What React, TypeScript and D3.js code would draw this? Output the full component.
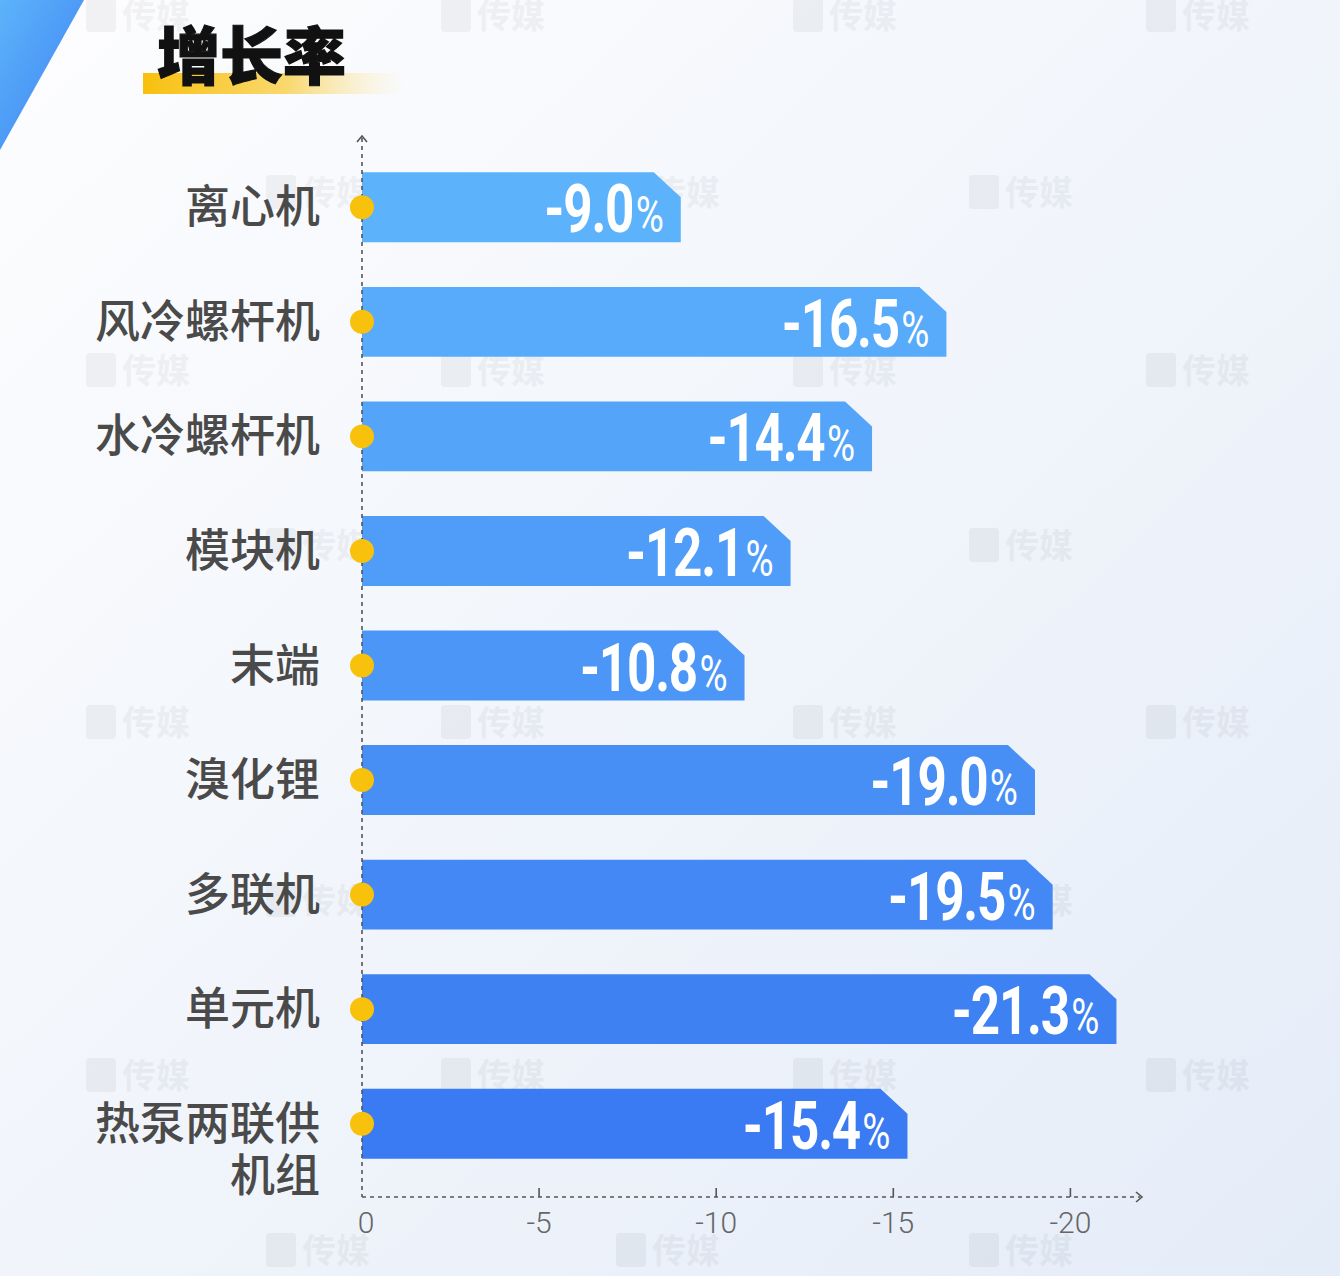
import React from "react";
import * as d3 from "d3";

const categories = ["离心机", "风冷螺杆机", "水冷螺杆机", "模块机", "末端", "溴化锂", "多联机", "单元机", "热泵两联供机组"];
const growth = [-9.0, -16.5, -14.4, -12.1, -10.8, -19.0, -19.5, -21.3, -15.4];
const tickValues = [0, -5, -10, -15, -20];
const title = "增长率";
const watermark = "传媒";

const W = 1340;
const H = 1276;

const wmRowsY = [15, 192, 370, 545, 722, 900, 1075, 1250];
const wmColsA = [140, 495, 847, 1200];
const wmColsB = [320, 670, 1023];

function labelLines(c: string): string[] {
  if (c.length > 5) return [c.slice(0, 5), c.slice(5)];
  return [c];
}

export default function App() {
  const x = d3.scaleLinear().domain([0, -22]).range([362, 362 + 22 * 35.42]);
  const y = d3
    .scaleBand<string>()
    .domain(categories)
    .range([150, 1181])
    .paddingInner(0.39)
    .paddingOuter(0.195);
  const bw = y.bandwidth();
  const color = d3.interpolateRgb("#5cb2fb", "#3a7af2");
  const axisY = 1197;
  const x0 = x(0);
  const bevelW = 27;
  const bevelH = 25;

  return (
    <svg width={W} height={H} style={{ position: "absolute", left: 0, top: 0 }} xmlns="http://www.w3.org/2000/svg">
      <defs>
        <linearGradient id="bg" x1="0" y1="0" x2="1" y2="1">
          <stop offset="0" stopColor="#fdfdfe" />
          <stop offset="0.5" stopColor="#f1f5fb" />
          <stop offset="1" stopColor="#e4ecf8" />
        </linearGradient>
        <linearGradient id="tri" x1="0" y1="0" x2="1" y2="1">
          <stop offset="0" stopColor="#5db3fb" />
          <stop offset="1" stopColor="#3d82f1" />
        </linearGradient>
        <linearGradient id="hl" x1="0" y1="0" x2="1" y2="0">
          <stop offset="0" stopColor="#f8c00c" />
          <stop offset="0.55" stopColor="#f9cf4a" stopOpacity="0.8" />
          <stop offset="1" stopColor="#fbe6a8" stopOpacity="0" />
        </linearGradient>
      </defs>
      <rect x={0} y={0} width={W} height={H} fill="url(#bg)" />
      <polygon points="0,0 84,0 0,150" fill="url(#tri)" />

      {/* watermarks */}
      <g fill="#000" opacity={0.04} fontFamily="Noto Sans CJK SC" fontWeight={700} fontSize={34}>
        {wmRowsY.map((wy, ri) =>
          (ri % 2 === 0 ? wmColsA : wmColsB).map((wx) => (
            <g key={`${ri}-${wx}`}>
              <rect x={wx - 54} y={wy - 17} width={30} height={34} rx={4} />
              <text x={wx - 18} y={wy + 13}>{watermark}</text>
            </g>
          ))
        )}
      </g>

      {/* title */}
      <rect x={143} y={73} width={262} height={21} fill="url(#hl)" />
      <text x={157} y={79} fontFamily="Noto Sans CJK SC" fontWeight={900} fontSize={63} fill="#111" stroke="#111" strokeWidth={1.2}>
        {title}
      </text>

      {/* bars */}
      {categories.map((c, i) => {
        const yt = y(c)!;
        const xe = x(growth[i]);
        const p = `M${x0},${yt} L${xe - bevelW},${yt} L${xe},${yt + bevelH} L${xe},${yt + bw} L${x0},${yt + bw} Z`;
        return <path key={c} d={p} fill={color(i / (categories.length - 1))} />;
      })}

      {/* axes */}
      <line x1={x0} y1={138} x2={x0} y2={axisY} stroke="#555" strokeWidth={1.6} strokeDasharray="4,4" />
      <path d={`M${x0 - 5},${142} L${x0},${136} L${x0 + 5},${142}`} fill="none" stroke="#555" strokeWidth={1.6} />
      <line x1={x0} y1={axisY} x2={1140} y2={axisY} stroke="#555" strokeWidth={1.6} strokeDasharray="4,4" />
      <path d={`M${1136},${axisY - 5} L${1142},${axisY} L${1136},${axisY + 5}`} fill="none" stroke="#555" strokeWidth={1.6} />
      {tickValues.map((t) => (
        <g key={t}>
          {t !== 0 && <line x1={x(t)} y1={axisY} x2={x(t)} y2={axisY - 9} stroke="#555" strokeWidth={1.6} />}
          <text x={x(t) + (t === 0 ? 4 : 0)} y={axisY + 36} textAnchor="middle" fontFamily="Roboto" fontWeight={300} fontSize={30} fill="#666">
            {t === 0 ? "0" : `-${Math.abs(t)}`}
          </text>
        </g>
      ))}

      {/* dots */}
      {categories.map((c) => (
        <circle key={c} cx={x0} cy={y(c)! + bw / 2} r={12} fill="#f8c10c" />
      ))}

      {/* category labels */}
      {categories.map((c) => {
        const lines = labelLines(c);
        const cy = y(c)! + bw / 2;
        return (
          <text key={c} textAnchor="end" fontFamily="Noto Sans CJK SC" fontWeight={500} fontSize={45} fill="#4a4a4a">
            {lines.map((l, k) => (
              <tspan key={k} x={320} y={cy + 16 + k * 52}>
                {l}
              </tspan>
            ))}
          </text>
        );
      })}

      {/* value labels */}
      {categories.map((c, i) => {
        const cy = y(c)! + bw / 2;
        const xe = x(growth[i]);
        return (
          <g key={c} transform={`translate(${xe - 17},${cy + 25}) scale(0.8,1.04)`}>
            <text textAnchor="end" fontFamily="Roboto" fontWeight={700} fill="#fff" fontSize={64} letterSpacing={-1.5}>
              {growth[i].toFixed(1)}
              <tspan fontSize={48} fontWeight={400} letterSpacing={0} dx={3}>%</tspan>
            </text>
          </g>
        );
      })}
    </svg>
  );
}
